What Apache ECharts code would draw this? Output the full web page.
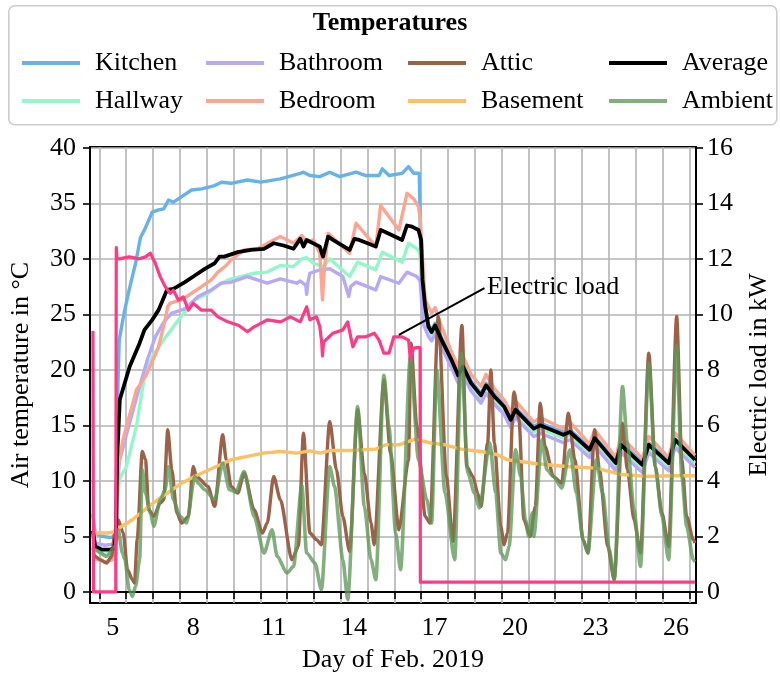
<!DOCTYPE html>
<html>
<head>
<meta charset="utf-8">
<title>Temperatures</title>
<script src="https://cdn.jsdelivr.net/npm/echarts@6/dist/echarts.min.js"></script>
<style>
html,body{margin:0;padding:0;background:#fff}
#chart{width:780px;height:679px}
</style>
</head>
<body>
<div id="chart"></div>
<script>
var FONT = "Liberation Serif";

// x = day of Feb. 2019 (grid line at midnight), y = temperature in °C
var kitchen = [[4.76,7.0],[4.84,5.3],[5.1,5.0],[5.4,4.9],[5.6,5.0],[5.65,12.5],[5.69,18.5],[5.74,22.7],[5.92,25.1],[6.11,27.2],[6.35,29.6],[6.53,31.9],[6.72,32.8],[6.97,34.2],[7.21,34.4],[7.40,34.5],[7.58,35.3],[7.76,35.1],[8.07,35.6],[8.44,36.2],[8.81,36.3],[9.30,36.6],[9.55,36.9],[9.91,36.8],[10.52,37.1],[11.02,36.9],[11.75,37.2],[12.49,37.7],[12.61,37.8],[12.85,37.5],[13.22,37.4],[13.59,37.8],[13.96,37.4],[14.57,37.8],[14.94,37.5],[15.43,37.5],[15.55,38.1],[15.80,37.5],[16.29,37.7],[16.53,38.3],[16.72,37.7],[16.93,37.7],[16.97,32.0],[17.02,27.0],[17.08,24.8],[17.15,25.9],[17.27,24.1],[17.39,23.6],[17.52,24.2],[17.76,22.9],[18.13,21.1],[18.38,19.7],[18.56,20.5],[18.86,19.0],[19.23,17.9],[19.42,18.8],[19.73,17.8],[20.09,16.9],[20.34,15.7],[20.52,16.6],[21.20,14.9],[21.44,15.2],[22.30,14.4],[22.55,14.6],[23.28,13.0],[23.47,14.0],[24.26,11.8],[24.45,13.4],[25.25,11.7],[25.49,13.4],[26.23,11.8],[26.47,13.8],[27.21,12.0]];
var hallway = [[4.76,5.0],[4.84,3.7],[5.2,3.4],[5.5,3.5],[5.62,4.0],[5.68,8.5],[5.75,10.2],[6.01,11.3],[6.38,14.9],[6.68,19.4],[7.0,21.3],[7.40,22.7],[7.95,24.5],[8.56,26.3],[9.05,26.9],[9.54,27.8],[9.91,28.2],[10.28,28.4],[10.77,28.7],[11.26,28.8],[11.75,29.4],[12.24,29.3],[12.55,30.0],[12.73,30.1],[12.98,29.6],[13.34,29.3],[13.59,30.0],[14.33,28.4],[14.63,29.7],[15.31,29.0],[15.55,30.6],[16.29,29.7],[16.53,31.4],[16.84,30.9],[16.95,30.6],[17.03,27.5],[17.15,25.4],[17.27,23.6],[17.39,23.1],[17.52,23.7],[17.76,22.4],[18.13,20.6],[18.38,19.2],[18.56,20.0],[18.86,18.5],[19.23,17.4],[19.42,18.3],[19.73,17.3],[20.09,16.4],[20.34,15.2],[20.52,16.1],[21.20,14.4],[21.44,14.7],[22.30,13.85],[22.55,14.1],[23.28,12.5],[23.47,13.55],[24.26,11.3],[24.45,12.95],[25.25,11.15],[25.49,12.95],[26.23,11.3],[26.47,13.4],[27.21,11.6]];
var bathroom = [[4.76,5.5],[4.84,4.4],[5.2,4.2],[5.5,4.3],[5.62,4.6],[5.67,9.5],[5.75,11.8],[6.1,15.0],[6.5,18.5],[6.8,21.0],[7.09,23.0],[7.40,24.3],[7.70,25.1],[8.19,25.5],[8.68,26.6],[9.17,27.2],[9.54,27.8],[9.91,27.9],[10.52,28.4],[11.26,27.8],[11.75,28.2],[12.36,27.8],[12.49,28.0],[12.70,27.6],[12.73,26.8],[12.77,27.8],[12.85,28.7],[13.22,29.0],[13.59,29.1],[14.08,28.4],[14.30,26.6],[14.37,27.5],[14.57,27.9],[15.31,27.2],[15.49,28.4],[16.17,27.8],[16.47,28.8],[16.84,28.4],[16.96,28.0],[17.02,26.0],[17.10,24.0],[17.27,23.0],[17.39,22.6],[17.52,23.2],[17.76,22.0],[18.13,20.2],[18.38,18.8],[18.56,19.6],[18.86,18.1],[19.23,17.0],[19.42,17.9],[19.73,16.9],[20.09,16.0],[20.34,14.8],[20.52,15.7],[21.20,14.0],[21.44,14.3],[22.30,13.45],[22.55,13.7],[23.28,12.1],[23.47,13.15],[24.26,10.9],[24.45,12.55],[25.25,10.75],[25.49,12.55],[26.23,10.9],[26.47,13.0],[27.21,11.2]];
var bedroom = [[4.76,4.0],[4.84,3.0],[5.2,2.7],[5.5,2.9],[5.62,3.5],[5.67,9.0],[5.70,11.3],[5.88,13.7],[6.38,18.2],[6.74,19.5],[7.2,22.0],[7.45,24.5],[7.55,25.7],[7.64,26.0],[8.07,26.3],[8.44,26.9],[8.81,27.5],[9.17,28.1],[9.42,28.8],[9.73,29.4],[9.91,29.9],[10.4,30.8],[10.9,30.9],[11.50,31.7],[11.75,32.0],[12.24,31.4],[12.55,32.1],[12.73,31.5],[12.98,31.7],[13.22,30.5],[13.28,28.0],[13.32,26.3],[13.37,28.5],[13.53,32.3],[14.33,30.5],[14.57,33.2],[15.31,31.1],[15.49,34.8],[16.17,32.6],[16.47,35.9],[16.72,35.4],[16.90,34.7],[16.97,33.5],[17.05,30.0],[17.15,26.3],[17.39,25.1],[17.52,25.6],[17.76,23.9],[18.13,21.6],[18.38,20.3],[18.56,21.2],[18.86,19.6],[19.23,18.5],[19.42,19.6],[19.73,18.3],[20.09,17.3],[20.34,16.2],[20.52,17.2],[21.20,15.3],[21.44,15.7],[22.30,14.7],[22.55,15.3],[23.28,13.3],[23.47,14.6],[24.26,12.1],[24.45,14.0],[25.25,12.0],[25.49,14.0],[26.23,12.1],[26.47,14.3],[27.21,12.3]];
var attic = [[4.76,3.5],[4.84,3.2],[5.03,2.9],[5.27,2.6],[5.46,3.2],[5.58,5.5],[5.70,6.5],[5.89,5.3],[6.05,2.0],[6.23,1.1],[6.31,0.8],[6.41,4.7],[6.60,12.65],[6.72,11.9],[6.84,7.4],[7.03,6.8],[7.27,8.0],[7.40,8.3],[7.55,14.6],[7.70,11.0],[7.89,7.1],[8.07,6.2],[8.32,6.8],[8.50,11.3],[8.62,10.4],[9.05,9.5],[9.30,7.7],[9.60,14.15],[9.73,11.9],[9.91,9.5],[10.16,8.9],[10.40,10.7],[10.77,7.4],[11.08,5.3],[11.26,6.2],[11.50,10.4],[11.75,8.3],[12.18,2.9],[12.42,4.1],[12.61,14.3],[12.85,5.3],[13.10,4.7],[13.28,4.25],[13.59,15.35],[13.84,11.0],[14.08,6.8],[14.33,3.65],[14.63,16.4],[14.88,10.7],[15.13,6.2],[15.25,4.25],[15.61,19.1],[15.86,12.5],[16.17,5.6],[16.53,11.9],[16.62,22.4],[16.84,14.9],[17.15,6.8],[17.33,6.2],[17.64,24.8],[17.94,10.4],[18.19,4.55],[18.52,24.0],[18.70,11.3],[18.93,10.4],[19.11,8.9],[19.23,7.7],[19.48,13.4],[19.60,20.0],[19.73,13.4],[19.97,5.9],[20.09,4.25],[20.22,5.3],[20.46,18.0],[20.65,15.5],[20.83,6.5],[21.07,5.0],[21.26,7.7],[21.44,17.0],[21.62,13.1],[21.93,10.4],[22.24,9.8],[22.49,16.1],[22.73,11.9],[23.04,4.7],[23.22,3.5],[23.47,14.6],[23.65,11.0],[23.96,4.1],[24.20,1.1],[24.51,15.2],[24.69,11.0],[24.94,6.5],[25.18,3.5],[25.49,21.5],[25.73,11.3],[25.98,7.1],[26.23,4.1],[26.53,24.8],[26.72,11.9],[26.90,6.8],[27.15,4.7],[27.21,4.4]];
var basement = [[4.76,5.3],[5.0,5.3],[5.3,5.3],[5.55,5.4],[5.74,5.75],[6.23,6.5],[6.84,7.7],[7.44,8.75],[8.07,9.8],[8.68,10.55],[9.28,11.2],[9.91,11.9],[10.52,12.2],[11.12,12.5],[11.75,12.65],[12.36,12.5],[12.85,12.7],[13.23,12.5],[13.6,12.73],[14.33,12.73],[15.31,12.86],[15.68,13.25],[16.17,13.25],[16.78,13.76],[17.38,13.4],[17.89,13.25],[18.49,12.86],[19.22,12.65],[19.85,12.35],[20.21,11.9],[21.32,11.54],[22.42,11.3],[23.53,11.15],[24.39,10.6],[25.37,10.4],[26.35,10.46],[27.21,10.46]];
var average = [[4.76,5.5],[4.84,4.1],[5.1,3.8],[5.4,3.8],[5.55,3.95],[5.62,5.0],[5.66,12.0],[5.70,14.0],[5.76,17.3],[6.13,20.3],[6.50,22.4],[6.68,23.6],[6.97,24.5],[7.21,25.4],[7.52,27.2],[7.76,27.3],[8.19,27.9],[8.56,28.5],[8.93,29.1],[9.30,29.6],[9.48,30.2],[9.66,30.2],[10.16,30.6],[10.65,30.8],[11.14,30.9],[11.50,31.4],[11.87,31.2],[12.24,30.9],[12.49,31.8],[12.61,31.1],[12.73,31.7],[13.22,31.1],[13.34,30.2],[13.53,32.0],[13.71,31.7],[14.33,30.8],[14.51,31.8],[14.69,31.7],[15.31,31.1],[15.49,32.6],[15.68,32.4],[16.29,31.7],[16.47,33.0],[16.66,32.9],[16.90,32.6],[17.00,31.7],[17.05,28.1],[17.15,25.7],[17.27,23.9],[17.39,23.4],[17.52,24.0],[17.76,22.7],[18.13,20.9],[18.38,19.5],[18.56,20.3],[18.86,18.8],[19.23,17.7],[19.42,18.6],[19.73,17.6],[20.09,16.7],[20.34,15.5],[20.52,16.4],[21.20,14.7],[21.44,15.0],[22.30,14.15],[22.55,14.4],[23.28,12.8],[23.47,13.85],[24.26,11.6],[24.45,13.25],[25.25,11.45],[25.49,13.25],[26.23,11.6],[26.47,13.7],[27.21,11.9]];
var ambient = [[4.76,4.0],[4.84,3.8],[5.27,3.2],[5.58,4.1],[5.70,5.6],[5.86,3.5],[5.95,2.9],[6.11,0.2],[6.23,-0.4],[6.35,0.5],[6.50,2.9],[6.60,11.0],[6.72,8.9],[6.90,7.1],[7.03,5.9],[7.27,8.3],[7.45,9.2],[7.58,11.3],[7.76,8.3],[8.01,6.8],[8.25,6.2],[8.56,10.4],[8.68,9.8],[8.93,9.2],[9.30,8.3],[9.60,11.6],[9.85,9.2],[10.09,9.0],[10.40,10.85],[10.77,6.8],[11.14,3.5],[11.44,5.6],[11.63,3.2],[12.00,1.7],[12.24,2.3],[12.55,9.6],[12.73,3.5],[13.04,2.6],[13.28,0.2],[13.59,11.3],[13.77,9.5],[14.08,2.9],[14.26,-0.7],[14.63,16.7],[14.88,7.7],[15.13,2.9],[15.31,1.1],[15.61,19.5],[15.80,14.9],[16.05,5.3],[16.23,2.0],[16.60,21.2],[16.90,11.9],[17.21,8.3],[17.39,6.2],[17.58,20.0],[17.89,8.9],[18.25,2.9],[18.50,21.5],[18.74,10.7],[18.99,8.9],[19.17,7.55],[19.56,13.4],[19.78,8.9],[19.97,3.5],[20.15,2.9],[20.28,4.1],[20.52,12.8],[20.71,10.4],[20.89,6.5],[21.01,5.0],[21.14,7.1],[21.20,5.0],[21.50,13.7],[21.69,11.0],[21.93,10.4],[22.24,9.35],[22.55,12.8],[22.79,8.9],[23.04,4.7],[23.22,3.5],[23.53,11.9],[23.77,8.9],[24.02,3.8],[24.20,1.1],[24.51,18.5],[24.69,13.4],[24.94,7.4],[25.18,2.3],[25.49,20.6],[25.73,11.3],[25.98,6.8],[26.23,2.9],[26.53,22.2],[26.72,10.4],[26.90,5.9],[27.15,2.9],[27.21,2.7]];
// electric load in kW (right axis)
var load = [[4.76,9.4],[4.78,0],[5.61,0],[5.63,12.4],[5.66,12.0],[5.74,12.0],[6.11,12.07],[6.48,12.0],[6.72,12.07],[6.90,12.2],[7.09,11.83],[7.27,11.35],[7.45,11.0],[7.64,10.76],[7.76,10.87],[7.95,10.51],[8.13,10.63],[8.32,10.15],[8.50,10.4],[8.81,10.15],[9.17,10.15],[9.42,9.91],[9.79,9.73],[10.2,9.6],[10.52,9.37],[10.77,9.55],[11.26,9.8],[11.75,9.73],[12.12,9.91],[12.49,9.73],[12.73,10.27],[12.85,9.8],[13.10,9.91],[13.22,9.55],[13.29,9.0],[13.32,8.5],[13.36,9.0],[13.44,9.07],[13.71,9.32],[14.08,9.44],[14.26,9.73],[14.45,8.83],[14.63,9.19],[14.94,9.19],[15.25,9.32],[15.43,9.07],[15.61,8.6],[15.80,8.6],[15.98,9.19],[16.29,9.19],[16.53,9.07],[16.60,8.36],[16.72,8.78],[16.84,8.8],[16.96,8.8],[16.97,0.35],[27.21,0.35]];

var dayTicks = [5,6,7,8,9,10,11,12,13,14,15,16,17,18,19,20,21,22,23,24,25,26,27];
var dayLabels = [5.5,8.5,11.5,14.5,17.5,20.5,23.5,26.5];
var tempTicks = [0,5,10,15,20,25,30,35,40];
var loadTicks = [0,2,4,6,8,10,12,14,16];
var annotation = [[16.17,9.26],[19.36,10.94]];

var chart = echarts.init(document.getElementById('chart'));

function line(name, data, color, width, yIdx, smooth) {
  return {
    name: name, type: 'line', data: data, yAxisIndex: yIdx || 0,
    showSymbol: false, symbol: 'none', color: color,
    smooth: smooth || false, smoothMonotone: 'x',
    lineStyle: {color: color, width: width, join: 'round'},
    emphasis: {disabled: true}, z: 2
  };
}

var txt = {fontFamily: FONT, fontSize: 26, color: '#000'};
var tickStyle = {color: '#000', width: 1.6};
var gridLine = {color: '#b3b3b3', width: 1.6};

var cols = [['Kitchen','Hallway'],['Bathroom','Bedroom'],['Attic','Basement'],['Average','Ambient']];
var colLeft = [17, 201, 403, 604];
var legends = cols.map(function(c, i){
  return {
    orient: 'vertical', left: colLeft[i], top: 45, data: c,
    icon: 'rect', itemWidth: 58, itemHeight: 4, itemGap: 12,
    selectedMode: false, z: 5,
    textStyle: {fontFamily: FONT, fontSize: 26, lineHeight: 26, color: '#000', padding: [0,0,0,10]}
  };
});

var loadSeries = line('Electric load', load, '#ff3b86', 3.2, 1);
loadSeries.markLine = {
  silent: true, symbol: 'none', animation: false,
  lineStyle: {color: '#000', width: 2, type: 'solid'},
  label: {show: true, position: 'end', formatter: 'Electric load', fontFamily: FONT, fontSize: 26, color: '#000', distance: 3},
  data: [[{coord: annotation[0]}, {coord: annotation[1]}]]
};

chart.setOption({
  animation: false,
  backgroundColor: '#fff',
  textStyle: {fontFamily: FONT},
  graphic: [
    {type: 'rect', left: 8, top: 5, z: 1, shape: {width: 768, height: 119, r: 6}, style: {fill: '#fff', stroke: '#cccccc', lineWidth: 1.6}},
    {type: 'text', left: 'center', top: 10, z: 2, style: {text: 'Temperatures', font: 'bold 26px "Liberation Serif"', fill: '#000'}}
  ],
  legend: legends,
  grid: {left: 87, right: 79, top: 147, bottom: 76, show: true, borderColor: '#000', borderWidth: 2, backgroundColor: 'transparent'},
  xAxis: {
    type: 'value', min: 4.65, max: 27.25,
    name: 'Day of Feb. 2019', nameLocation: 'middle', nameGap: 44, nameTextStyle: txt,
    axisLine: {show: true, lineStyle: {color: '#000', width: 2}},
    axisTick: {show: true, length: 7, customValues: dayTicks, lineStyle: tickStyle},
    axisLabel: {customValues: dayLabels, margin: 12, fontFamily: FONT, fontSize: 26, color: '#000',
      formatter: function(v){ return String(Math.floor(v)); }},
    splitLine: {show: true, lineStyle: gridLine}
  },
  yAxis: [{
    type: 'value', min: -1, max: 40.07, position: 'left',
    name: 'Air temperature in °C', nameLocation: 'middle', nameGap: 56, nameTextStyle: txt,
    axisLine: {show: true, lineStyle: {color: '#000', width: 2}},
    axisTick: {show: true, length: 7, customValues: tempTicks, lineStyle: tickStyle},
    axisLabel: {customValues: tempTicks, margin: 14, fontFamily: FONT, fontSize: 26, color: '#000'},
    splitLine: {show: true, lineStyle: gridLine}
  }, {
    type: 'value', min: -0.4, max: 16.028, position: 'right',
    name: 'Electric load in kW', nameLocation: 'middle', nameGap: 50, nameTextStyle: txt,
    axisLine: {show: true, lineStyle: {color: '#000', width: 2}},
    axisTick: {show: true, length: 7, customValues: loadTicks, lineStyle: tickStyle},
    axisLabel: {customValues: loadTicks, margin: 11, fontFamily: FONT, fontSize: 26, color: '#000'},
    splitLine: {show: false}
  }],
  series: [
    line('Kitchen', kitchen, '#65b3ea', 3.4),
    line('Hallway', hallway, '#93f7c9', 3.4),
    line('Bathroom', bathroom, '#b7a9f8', 3.4),
    line('Bedroom', bedroom, '#fca591', 3.4),
    line('Attic', attic, '#9c6249', 3.4, 0, 0.25),
    line('Basement', basement, '#fdc063', 3.4),
    line('Average', average, '#000000', 3.8),
    line('Ambient', ambient, 'rgba(95,152,88,0.78)', 3.6, 0, 0.25),
    loadSeries
  ]
});
</script>
</body>
</html>
